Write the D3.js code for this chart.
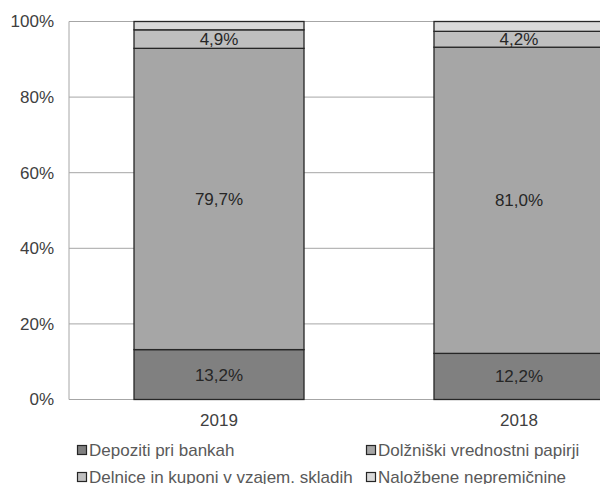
<!DOCTYPE html>
<html>
<head>
<meta charset="utf-8">
<script src="https://cdn.jsdelivr.net/npm/d3@7"></script>
<style>
  body { margin: 0; background: #fff; }
  svg { display: block; font-family: "Liberation Sans", Arial, sans-serif; }
  .tick-label { fill: #404040; font-size: 17px; }
  .value { fill: #262626; font-size: 17px; }
  .legend-text { fill: #595959; font-size: 17px; }
</style>
</head>
<body>
<svg width="600" height="484"></svg>
<script>
// categories and series (shares in %)
var years = ["2019", "2018"];
var seriesNames = ["Depoziti pri bankah", "Dolžniški vrednostni papirji",
  "Delnice in kuponi v vzajem. skladih", "Naložbene nepremičnine"];
var depoziti = [13.2, 12.2];
var dolzniski = [79.7, 81.0];
var delnice = [4.9, 4.2];
var nalozbene = [2.2, 2.6];
var yTicks = [0, 20, 40, 60, 80, 100];

var colors = ["#808080", "#a6a6a6", "#bfbfbf", "#d9d9d9"];
var showLabel = [true, true, true, false];

var svg = d3.select("svg");
// plot box (note: "top" is taken by window.top, so use other names)
var plotLeft = 69, plotRight = 669, plotTop = 21.5, plotBottom = 399.5;

// build rows for the stack
var rows = years.map(function (y, i) {
  return { year: y, s0: depoziti[i], s1: dolzniski[i], s2: delnice[i], s3: nalozbene[i] };
});
var stacked = d3.stack().keys(["s0", "s1", "s2", "s3"])(rows);

var x = d3.scaleBand()
  .domain(years)
  .range([plotLeft, plotRight])
  .paddingInner(0.4333)
  .paddingOuter(0.2167);

var y = d3.scaleLinear()
  .domain([0, 100])
  .range([plotBottom, plotTop]);

// gridlines
svg.selectAll("line.grid").data(yTicks)
  .enter()
  .append("line")
  .attr("class", "grid")
  .attr("x1", plotLeft)
  .attr("x2", plotRight)
  .attr("y1", function (d) { return y(d); })
  .attr("y2", function (d) { return y(d); })
  .attr("stroke", "#a6a6a6")
  .attr("stroke-width", 1);

// left border of the plot area
svg.append("line")
  .attr("x1", plotLeft).attr("x2", plotLeft)
  .attr("y1", y(100)).attr("y2", y(0))
  .attr("stroke", "#a6a6a6");

// y tick labels
svg.selectAll("text.ylab").data(yTicks)
  .enter()
  .append("text")
  .attr("class", "tick-label")
  .attr("x", 54)
  .attr("y", function (d) { return y(d); })
  .attr("dy", "0.35em")
  .attr("text-anchor", "end")
  .text(function (d) { return d + "%"; });

// bars
var groups = svg.selectAll("g.series").data(stacked)
  .enter()
  .append("g")
  .attr("class", "series")
  .attr("fill", function (d, i) { return colors[i]; });

groups.selectAll("rect").data(function (d) { return d; })
  .enter()
  .append("rect")
  .attr("x", function (d) { return x(d.data.year); })
  .attr("y", function (d) { return y(d[1]); })
  .attr("width", x.bandwidth())
  .attr("height", function (d) { return y(d[0]) - y(d[1]); })
  .attr("stroke", "#262626")
  .attr("stroke-width", 1.3);

// value labels
groups.each(function (s, si) {
  if (!showLabel[si]) return;
  d3.select(this).selectAll("text").data(s)
    .enter()
    .append("text")
    .attr("class", "value")
    .attr("x", function (d) { return x(d.data.year) + x.bandwidth() / 2; })
    .attr("y", function (d) { return (y(d[0]) + y(d[1])) / 2; })
    .attr("dy", "0.35em")
    .attr("text-anchor", "middle")
    .text(function (d) { return (d[1] - d[0]).toFixed(1).replace(".", ",") + "%"; });
});

// category labels
svg.selectAll("text.xlab").data(years)
  .enter()
  .append("text")
  .attr("class", "tick-label")
  .attr("x", function (d) { return x(d) + x.bandwidth() / 2; })
  .attr("y", 420)
  .attr("dy", "0.35em")
  .attr("text-anchor", "middle")
  .text(function (d) { return d; });

// legend, two columns
var legendPos = [[77, 450], [366, 450], [77, 477], [366, 477]];
var legend = svg.selectAll("g.legend").data(seriesNames)
  .enter()
  .append("g")
  .attr("class", "legend")
  .attr("transform", function (d, i) {
    return "translate(" + legendPos[i][0] + "," + legendPos[i][1] + ")";
  });

legend.append("rect")
  .attr("x", 0.5)
  .attr("y", -4.5)
  .attr("width", 9)
  .attr("height", 9)
  .attr("fill", function (d, i) { return colors[i]; })
  .attr("stroke", "#262626")
  .attr("stroke-width", 1.2);

legend.append("text")
  .attr("class", "legend-text")
  .attr("x", 12)
  .attr("y", 0)
  .attr("dy", "0.35em")
  .text(function (d) { return d; });
</script>
</body>
</html>
